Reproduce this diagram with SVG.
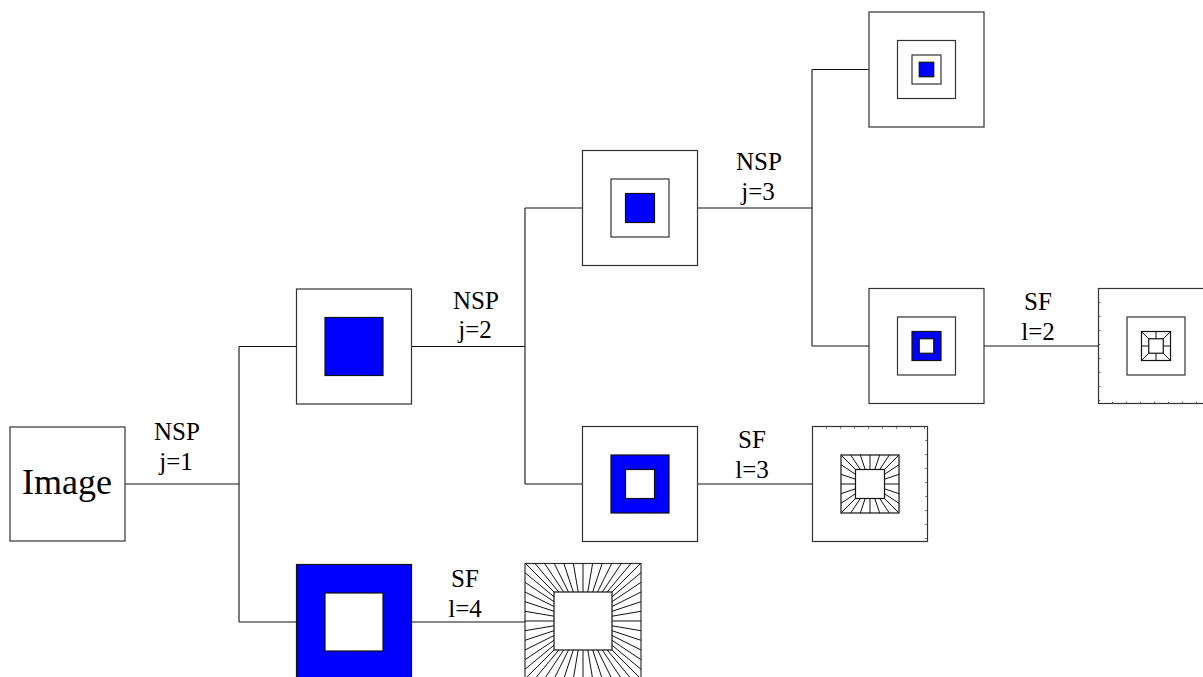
<svg xmlns="http://www.w3.org/2000/svg" width="1203" height="677" viewBox="0 0 1203 677">
<style>
.box{fill:#fff;stroke:#333;stroke-width:1.2}
.mid{fill:#fff;stroke:#333;stroke-width:1.2}
.blue{fill:#0000ff;stroke:#111;stroke-width:1.2}
.white{fill:#fff;stroke:#111;stroke-width:1.2}
.hatch{fill:none;stroke:#111;stroke-width:1}
.conn{fill:none;stroke:#111;stroke-width:1.1}
.tick{fill:none;stroke:#555;stroke-width:1.5;stroke-dasharray:1 13}
.lbl{font-family:"Liberation Serif","Times New Roman",serif;font-size:25px;fill:#000;text-anchor:middle}
.big{font-family:"Liberation Serif","Times New Roman",serif;font-size:36px;fill:#000;text-anchor:middle}
</style>
<rect width="1203" height="677" fill="#fff"/>
<g id="connectors">
<path class="conn" d="M125 484H239M239 346.5V622M239 346.5H296.5M239 622H296.5"/>
<path class="conn" d="M411.5 346.5H525M525 208V484M525 208H582.5M525 484H582.5"/>
<path class="conn" d="M697.5 208H812M812 69.5V346M812 69.5H869M812 346H869"/>
<path class="conn" d="M984 346H1098.5M697.5 484H812.5M411.5 622H525"/>
</g>
<g id="labels">
<text class="lbl" x="177" y="440">NSP</text>
<text class="lbl" x="176" y="470">j=1</text>
<text class="lbl" x="476" y="309">NSP</text>
<text class="lbl" x="475" y="338">j=2</text>
<text class="lbl" x="759" y="170">NSP</text>
<text class="lbl" x="758" y="200">j=3</text>
<text class="lbl" x="1038" y="310">SF</text>
<text class="lbl" x="1038" y="340">l=2</text>
<text class="lbl" x="752" y="448">SF</text>
<text class="lbl" x="752" y="478">l=3</text>
<text class="lbl" x="465" y="587">SF</text>
<text class="lbl" x="465" y="617">l=4</text>
</g>
<g id="image">
<rect class="box" x="10" y="427" width="115" height="114"/>
<text class="big" x="67" y="494">Image</text>
</g>
<g id="nsp-j1-a">
<rect class="box" x="296.5" y="289" width="115" height="115"/>
<rect class="blue" x="325" y="317.5" width="58" height="58"/>
</g>
<g id="nsp-j1-b">
<rect class="blue" x="296.5" y="564.5" width="115" height="115"/>
<rect class="white" x="325" y="593" width="58" height="58"/>
</g>
<g id="nsp-j2-a">
<rect class="box" x="582.5" y="150.5" width="115" height="115"/>
<rect class="mid" x="611" y="179" width="58" height="58"/>
<rect class="blue" x="625.5" y="193.5" width="29" height="29"/>
</g>
<g id="nsp-j2-b">
<rect class="box" x="582.5" y="426.5" width="115" height="115"/>
<rect class="blue" x="611" y="455" width="58" height="58"/>
<rect class="white" x="625.5" y="469.5" width="29" height="29"/>
</g>
<g id="nsp-j3-a">
<rect class="box" x="869" y="12" width="115" height="115"/>
<rect class="mid" x="897.5" y="40.5" width="58" height="58"/>
<rect class="mid" x="912" y="55" width="29" height="29"/>
<rect class="blue" x="919.25" y="62.25" width="14.5" height="14.5"/>
</g>
<g id="nsp-j3-b">
<rect class="box" x="869" y="288.5" width="115" height="115"/>
<rect class="mid" x="897.5" y="317" width="58" height="58"/>
<rect class="blue" x="912" y="331.5" width="29" height="29"/>
<rect class="white" x="919.25" y="338.75" width="14.5" height="14.5"/>
</g>
<g id="sf-l2">
<rect class="box" x="1098.5" y="288.5" width="115" height="115"/>
<path class="tick" d="M1099.5 302V404M1112 402.5H1203"/>
<rect class="mid" x="1127" y="317" width="58" height="58"/>
<rect class="white" x="1141.5" y="331.5" width="29" height="29"/>
<rect class="white" x="1148.75" y="338.75" width="14.5" height="14.5"/>
<path class="hatch" d="M1141.5 331.5L1148.75 338.75M1156 331.5V338.75M1170.5 331.5L1163.25 338.75M1141.5 360.5L1148.75 353.25M1156 360.5V353.25M1170.5 360.5L1163.25 353.25M1141.5 346H1148.75M1170.5 346H1163.25"/>
</g>
<g id="sf-l3">
<rect class="box" x="812.5" y="426.5" width="115" height="115"/>
<path class="tick" d="M826 428H927M926 440V541"/>
<rect class="white" x="841" y="455" width="58" height="58"/>
<rect class="white" x="855.5" y="469.5" width="29" height="29"/>
<path class="hatch" d="M841 455L855.5 469.5M850.7 455L860.3 469.5M860.3 455L865.2 469.5M870 455V469.5M879.7 455L874.8 469.5M889.3 455L879.7 469.5M899 455L884.5 469.5
M841 513L855.5 498.5M850.7 513L860.3 498.5M860.3 513L865.2 498.5M870 513V498.5M879.7 513L874.8 498.5M889.3 513L879.7 498.5M899 513L884.5 498.5
M841 464.7L855.5 474.3M841 474.3L855.5 479.2M841 484H855.5M841 493.7L855.5 488.8M841 503.3L855.5 493.7
M899 464.7L884.5 474.3M899 474.3L884.5 479.2M899 484H884.5M899 493.7L884.5 488.8M899 503.3L884.5 493.7"/>
</g>
<g id="sf-l4">
<rect class="box" x="525" y="563.5" width="116" height="116"/>
<rect class="white" x="554" y="592" width="58" height="58"/>
<path class="hatch" d="M525 563L554 592M534.7 563L558.8 592M544.3 563L563.7 592M554 563L568.5 592M563.7 563L573.3 592M573.3 563L578.2 592M583 563V592M592.7 563L587.8 592M602.3 563L592.7 592M612 563L597.5 592M621.7 563L602.3 592M631.3 563L607.2 592M641 563L612 592
M525 679L554 650M534.7 679L558.8 650M544.3 679L563.7 650M554 679L568.5 650M563.7 679L573.3 650M573.3 679L578.2 650M583 679V650M592.7 679L587.8 650M602.3 679L592.7 650M612 679L597.5 650M621.7 679L602.3 650M631.3 679L607.2 650M641 679L612 650
M525 572.7L554 596.8M525 582.3L554 601.7M525 592L554 606.5M525 601.7L554 611.3M525 611.3L554 616.2M525 621H554M525 630.7L554 625.8M525 640.3L554 630.7M525 650L554 635.5M525 659.7L554 640.3M525 669.3L554 645.2
M641 572.7L612 596.8M641 582.3L612 601.7M641 592L612 606.5M641 601.7L612 611.3M641 611.3L612 616.2M641 621H612M641 630.7L612 625.8M641 640.3L612 630.7M641 650L612 635.5M641 659.7L612 640.3M641 669.3L612 645.2"/>
</g>
</svg>
